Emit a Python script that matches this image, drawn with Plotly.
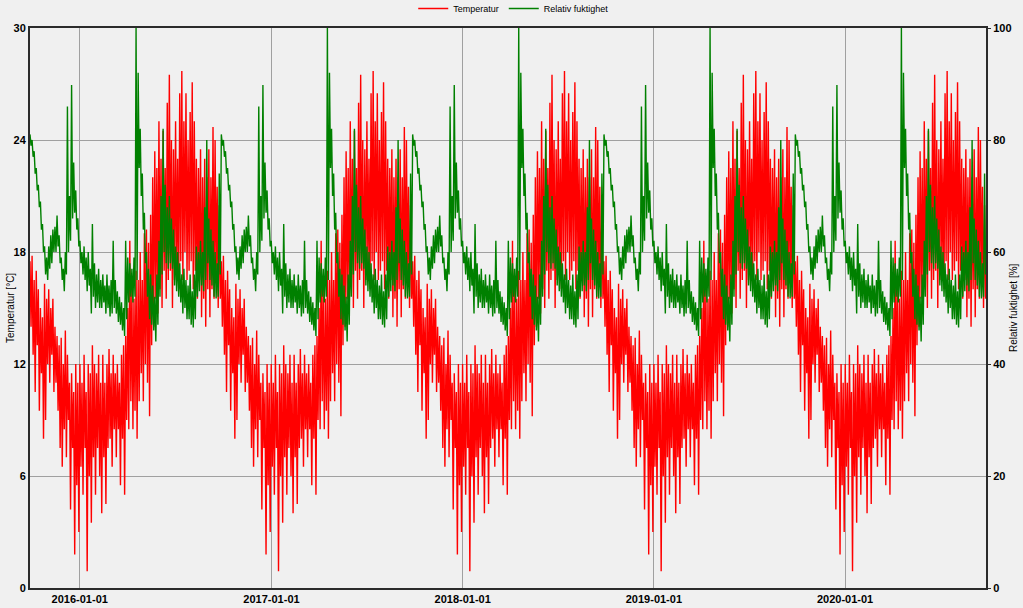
import plotly.graph_objects as go
import pandas as pd

# The logger file repeats the same reference year five times (the chart shows
# identical yearly cycles), so one year of readings is listed and reused.
START = "2015-09-28"
N_YEARS = 5

# upper / lower readings per ~4-day slot, one year starting late September
temp_hi_year = [17.5, 17.8, 16.5, 17, 16, 15, 14.5, 16.3, 15.5, 16, 15, 15.5, 14, 13.5, 13, 13.4,
                12, 13.8, 12.5, 11, 11.5, 10.5, 12, 11, 12, 11, 12.5, 10.5, 12, 11.5, 13, 12,
                11.5, 12.5, 11, 12.5, 11, 12, 12.8, 11.5, 12.5, 11.5, 12, 11, 12.5, 13, 13.5, 15,
                18.6, 16, 15.5, 17, 16.5, 18, 16.5, 19, 19.2, 18.5, 20, 22, 23.4, 22.5, 25, 23,
                24.5, 22.5, 26, 27.5, 24, 23.5, 25, 23, 26.5, 27.7, 25, 26.5, 24, 25.5, 27.1, 25,
                23, 22.5, 23.5, 22, 23, 22, 23.5, 22, 24.7, 24, 21.5, 20.5]
temp_lo_year = [14, 12.5, 10.5, 13, 9.5, 11.5, 8, 9, 12, 11, 12.5, 10.5, 11, 9.5, 7.5, 6.5,
                8.5, 7, 9, 4.2, 7.5, 1.8, 5.5, 3, 6.5, 5, 7.5, 0.9, 6, 3.5, 7, 5,
                7.5, 6, 4, 7, 4.5, 7.5, 8, 6.5, 8.5, 7, 8.5, 5.5, 8, 5, 9, 8.5,
                10, 8.5, 9.5, 8, 10, 11.5, 10, 12, 11, 9.2, 13, 14, 15.5, 14.7, 16, 15,
                17, 15.5, 16.5, 17, 15, 16.5, 17, 16, 17.5, 16.5, 18, 16.5, 17, 17.5, 16, 17,
                15.5, 16.5, 14.5, 15.5, 14, 16, 14.5, 16, 15.5, 16.5, 15, 15.5]
rh_hi_year = [81, 80, 78, 75, 72, 69, 65, 61, 59, 61, 63, 64, 64.5, 66.5, 63, 59,
              57, 60, 86, 70, 89.8, 76, 71, 66, 62, 60, 61, 59, 60, 57, 65, 58,
              56, 57, 55, 56, 54, 56, 54, 55, 62, 55, 53, 52, 51, 50, 62, 59,
              58, 57, 59, 100, 92, 82, 74, 67, 60, 57, 56, 54, 52, 56, 62, 70,
              82, 72, 68, 70, 66, 64, 61, 60, 58, 56, 57, 55, 54, 56, 53, 56,
              61, 60, 62, 60, 68, 80, 66, 64, 62, 60, 58, 74]
rh_lo_year = [79, 77, 74, 71, 68, 64, 60, 56, 55, 57, 58, 60, 60, 61, 58, 55,
              53, 56, 60, 62, 66, 67, 64, 61, 58, 56, 55, 53, 54, 49, 52, 50,
              51, 50, 50, 51, 49, 50, 48.5, 49, 50, 49, 47.5, 47, 46, 45, 48, 51,
              52, 51, 52, 55, 75, 70, 64, 58, 52, 48, 47, 46, 44, 47, 52, 56,
              60, 58, 57, 58, 57, 54, 53, 52, 51, 49, 50, 48, 48, 47, 46.5, 48,
              52, 53, 54, 53, 55, 58, 55, 54, 52, 51.7, 52, 56]

x_tick_vals = ["2016-01-01", "2017-01-01", "2018-01-01", "2019-01-01", "2020-01-01"]
x_range = ["2015-09-28", "2020-09-26"]
temp_ticks = [0, 6, 12, 18, 24, 30]
rh_ticks = [0, 20, 40, 60, 80, 100]

n = len(temp_hi_year)
step = 365.25 / n
start = pd.Timestamp(START)
times, temp, rh = [], [], []
for y in range(N_YEARS):
    for k in range(n):
        d0 = start + pd.Timedelta(days=y * 365.25 + k * step)
        d1 = d0 + pd.Timedelta(days=step / 2)
        times += [d0, d1]
        temp += [temp_hi_year[k], temp_lo_year[k]]
        rh += [rh_hi_year[k], rh_lo_year[k]]

fig = go.Figure()
fig.add_trace(go.Scatter(x=times, y=rh, mode="lines", name="Relativ fuktighet",
                         line=dict(color="#008000", width=1.4), yaxis="y2", legendrank=2))
fig.add_trace(go.Scatter(x=times, y=temp, mode="lines", name="Temperatur",
                         line=dict(color="#ff0000", width=1.4), legendrank=1))

axis_line = dict(showline=True, linecolor="#2b2b2b", linewidth=2)
tick_font = dict(family="Arial", size=11, color="black", weight="bold")

fig.update_layout(
    width=1023, height=608,
    margin=dict(l=30, r=37, t=28, b=20, autoexpand=False),
    paper_bgcolor="#f0f0f0", plot_bgcolor="#f0f0f0",
    font=dict(family="Arial", size=10, color="black"),
    showlegend=True,
    legend=dict(orientation="h", x=0.506, xanchor="center", y=1.009, yanchor="bottom",
                font=dict(family="Arial", size=9, color="black"), bgcolor="rgba(0,0,0,0)"),
    xaxis=dict(type="date", range=x_range, tickvals=x_tick_vals, tickformat="%Y-%m-%d",
               showgrid=True, gridcolor="#a0a0a0", gridwidth=1, mirror=True, ticks="",
               tickfont=tick_font, zeroline=False, automargin=False, **axis_line),
    yaxis=dict(range=[0, 30], tickvals=temp_ticks, showgrid=True, gridcolor="#a0a0a0",
               gridwidth=1, ticks="", tickfont=tick_font, zeroline=False,
               automargin=False, **axis_line),
    yaxis2=dict(range=[0, 100], tickvals=rh_ticks, overlaying="y", side="right",
                showgrid=False, ticks="outside", ticklen=3, tickcolor="#2b2b2b",
                tickfont=tick_font, zeroline=False, automargin=False, **axis_line),
    annotations=[
        dict(text="Temperatur [°C]", xref="paper", yref="paper", x=0, y=0.5,
             xanchor="center", yanchor="middle", xshift=-20, textangle=-90,
             showarrow=False, font=dict(family="Arial", size=10, color="black")),
        dict(text="Relativ fuktighet [%]", xref="paper", yref="paper", x=1, y=0.5,
             xanchor="center", yanchor="middle", xshift=27, textangle=-90,
             showarrow=False, font=dict(family="Arial", size=10, color="black")),
    ],
)

fig.write_html("out.html")
